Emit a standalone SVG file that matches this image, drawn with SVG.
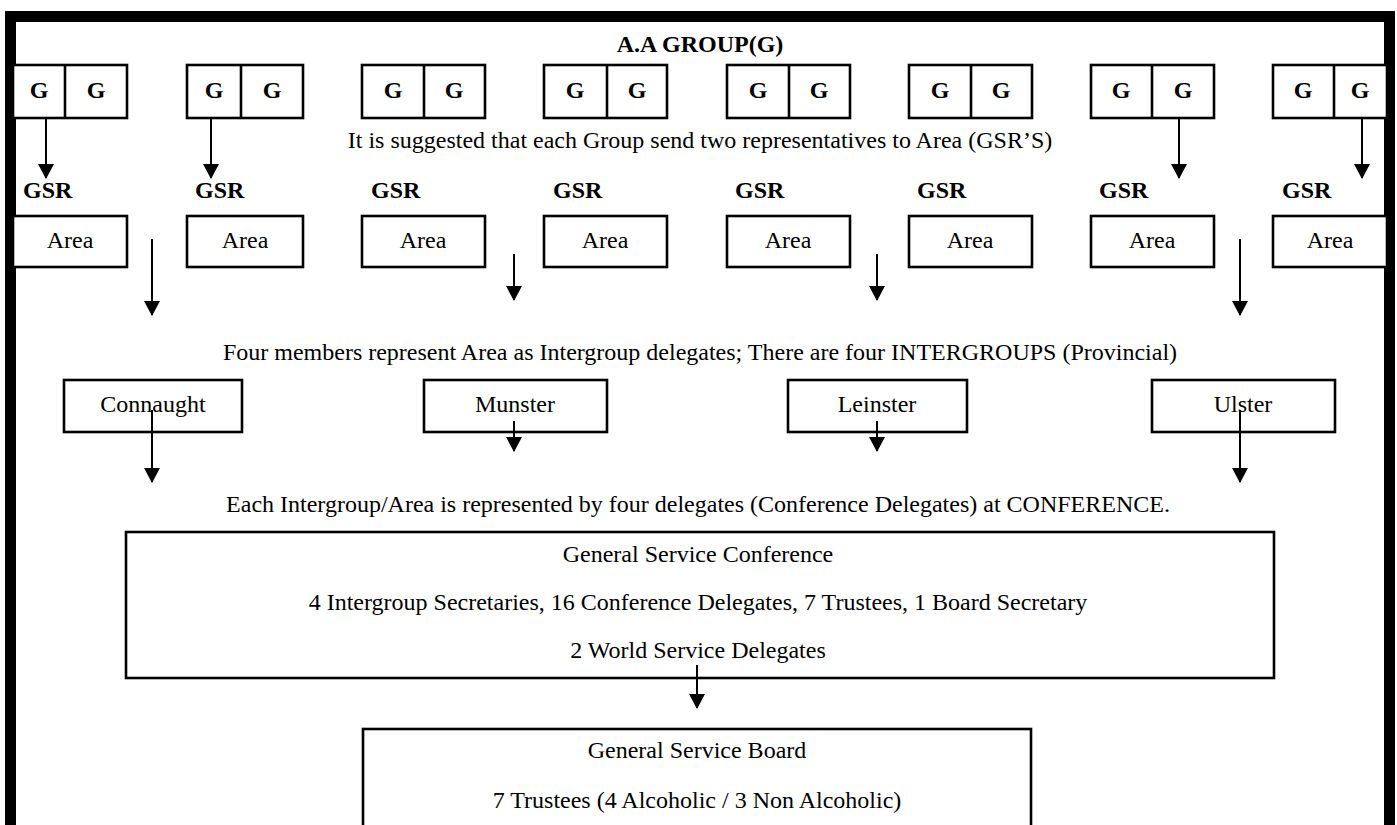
<svg xmlns="http://www.w3.org/2000/svg" width="1397" height="825" viewBox="0 0 1397 825">
<defs>
<style>
.box{fill:#fff;stroke:#000;stroke-width:2.6}
.div{stroke:#000;stroke-width:2.6}
.t{font-family:"Liberation Serif","Times New Roman",serif;font-size:24px;fill:#000;text-anchor:middle}
.b{font-weight:bold}
.l{text-anchor:start}
.arr{stroke:#000;stroke-width:2;fill:none;marker-end:url(#ah)}
</style>
<marker id="ah" markerUnits="userSpaceOnUse" markerWidth="16" markerHeight="16" viewBox="0 0 15 16" refX="14" refY="8" orient="auto">
<path d="M0,0 L15,8 L0,16 z" fill="#000"/>
</marker>
</defs>
<rect x="0" y="0" width="1397" height="825" fill="#fff"/>

<g id="frame"><rect x="10.5" y="16.5" width="1379" height="900" fill="none" stroke="#000" stroke-width="11"/></g>

<text id="title" class="t b" x="700" y="52">A.A GROUP(G)</text>

<g id="groups">
<g id="g1"><rect class="box" x="13" y="65" width="114" height="53"/><line class="div" x1="65" y1="65" x2="65" y2="118"/><text class="t b" x="39" y="98">G</text><text class="t b" x="96" y="98">G</text></g>
<g id="g2"><rect class="box" x="187" y="65" width="116" height="53"/><line class="div" x1="241" y1="65" x2="241" y2="118"/><text class="t b" x="214" y="98">G</text><text class="t b" x="272" y="98">G</text></g>
<g id="g3"><rect class="box" x="362" y="65" width="123" height="53"/><line class="div" x1="424" y1="65" x2="424" y2="118"/><text class="t b" x="393" y="98">G</text><text class="t b" x="454" y="98">G</text></g>
<g id="g4"><rect class="box" x="544" y="65" width="123" height="53"/><line class="div" x1="607" y1="65" x2="607" y2="118"/><text class="t b" x="575" y="98">G</text><text class="t b" x="637" y="98">G</text></g>
<g id="g5"><rect class="box" x="727" y="65" width="123" height="53"/><line class="div" x1="789" y1="65" x2="789" y2="118"/><text class="t b" x="758" y="98">G</text><text class="t b" x="819" y="98">G</text></g>
<g id="g6"><rect class="box" x="909" y="65" width="123" height="53"/><line class="div" x1="971" y1="65" x2="971" y2="118"/><text class="t b" x="940" y="98">G</text><text class="t b" x="1001" y="98">G</text></g>
<g id="g7"><rect class="box" x="1091" y="65" width="123" height="53"/><line class="div" x1="1152" y1="65" x2="1152" y2="118"/><text class="t b" x="1121" y="98">G</text><text class="t b" x="1183" y="98">G</text></g>
<g id="g8"><rect class="box" x="1273" y="65" width="114" height="53"/><line class="div" x1="1334" y1="65" x2="1334" y2="118"/><text class="t b" x="1303" y="98">G</text><text class="t b" x="1360" y="98">G</text></g>
</g>

<text id="note1" class="t" x="700" y="148">It is suggested that each Group send two representatives to Area (GSR’S)</text>

<g id="gsrs">
<text id="gsr1" class="t b l" x="23" y="198">GSR</text>
<text id="gsr2" class="t b l" x="195" y="198">GSR</text>
<text id="gsr3" class="t b l" x="371" y="198">GSR</text>
<text id="gsr4" class="t b l" x="553" y="198">GSR</text>
<text id="gsr5" class="t b l" x="735" y="198">GSR</text>
<text id="gsr6" class="t b l" x="917" y="198">GSR</text>
<text id="gsr7" class="t b l" x="1099" y="198">GSR</text>
<text id="gsr8" class="t b l" x="1282" y="198">GSR</text>
</g>

<g id="areas">
<g id="a1"><rect class="box" x="13" y="216" width="114" height="51"/><text class="t" x="70" y="248">Area</text></g>
<g id="a2"><rect class="box" x="187" y="216" width="116" height="51"/><text class="t" x="245" y="248">Area</text></g>
<g id="a3"><rect class="box" x="362" y="216" width="123" height="51"/><text class="t" x="423" y="248">Area</text></g>
<g id="a4"><rect class="box" x="544" y="216" width="123" height="51"/><text class="t" x="605" y="248">Area</text></g>
<g id="a5"><rect class="box" x="727" y="216" width="123" height="51"/><text class="t" x="788" y="248">Area</text></g>
<g id="a6"><rect class="box" x="909" y="216" width="123" height="51"/><text class="t" x="970" y="248">Area</text></g>
<g id="a7"><rect class="box" x="1091" y="216" width="123" height="51"/><text class="t" x="1152" y="248">Area</text></g>
<g id="a8"><rect class="box" x="1273" y="216" width="114" height="51"/><text class="t" x="1330" y="248">Area</text></g>
</g>

<text id="note2" class="t" x="700" y="360">Four members represent Area as Intergroup delegates; There are four INTERGROUPS (Provincial)</text>

<g id="intergroups">
<g id="connaught"><rect class="box" x="64" y="380" width="178" height="52"/><text class="t" x="153" y="412">Connaught</text></g>
<g id="munster"><rect class="box" x="424" y="380" width="183" height="52"/><text class="t" x="515" y="412">Munster</text></g>
<g id="leinster"><rect class="box" x="788" y="380" width="179" height="52"/><text class="t" x="877" y="412">Leinster</text></g>
<g id="ulster"><rect class="box" x="1152" y="380" width="183" height="52"/><text class="t" x="1243" y="412">Ulster</text></g>
</g>

<text id="note3" class="t" x="698" y="512">Each Intergroup/Area is represented by four delegates (Conference Delegates) at CONFERENCE.</text>

<g id="conference">
<rect class="box" x="126" y="532" width="1148" height="146"/>
<text class="t" x="698" y="562">General Service Conference</text>
<text class="t" x="698" y="610">4 Intergroup Secretaries, 16 Conference Delegates, 7 Trustees, 1 Board Secretary</text>
<text class="t" x="698" y="658">2 World Service Delegates</text>
</g>

<g id="board">
<rect class="box" x="363" y="729" width="668" height="140"/>
<text class="t" x="697" y="758">General Service Board</text>
<text class="t" x="697" y="808">7 Trustees (4 Alcoholic / 3 Non Alcoholic)</text>
</g>

<g id="connectors">
<line class="arr" x1="46" y1="118" x2="46" y2="178"/>
<line class="arr" x1="211" y1="118" x2="211" y2="178"/>
<line class="arr" x1="1179" y1="118" x2="1179" y2="178"/>
<line class="arr" x1="1362" y1="118" x2="1362" y2="178"/>
<line class="arr" x1="152" y1="239" x2="152" y2="315"/>
<line class="arr" x1="514" y1="254" x2="514" y2="300"/>
<line class="arr" x1="877" y1="254" x2="877" y2="300"/>
<line class="arr" x1="1240" y1="239" x2="1240" y2="315"/>
<line class="arr" x1="152" y1="410" x2="152" y2="482"/>
<line class="arr" x1="514" y1="421" x2="514" y2="451"/>
<line class="arr" x1="877" y1="421" x2="877" y2="451"/>
<line class="arr" x1="1240" y1="410" x2="1240" y2="482"/>
<line class="arr" x1="697" y1="665" x2="697" y2="708"/>
</g>
</svg>
